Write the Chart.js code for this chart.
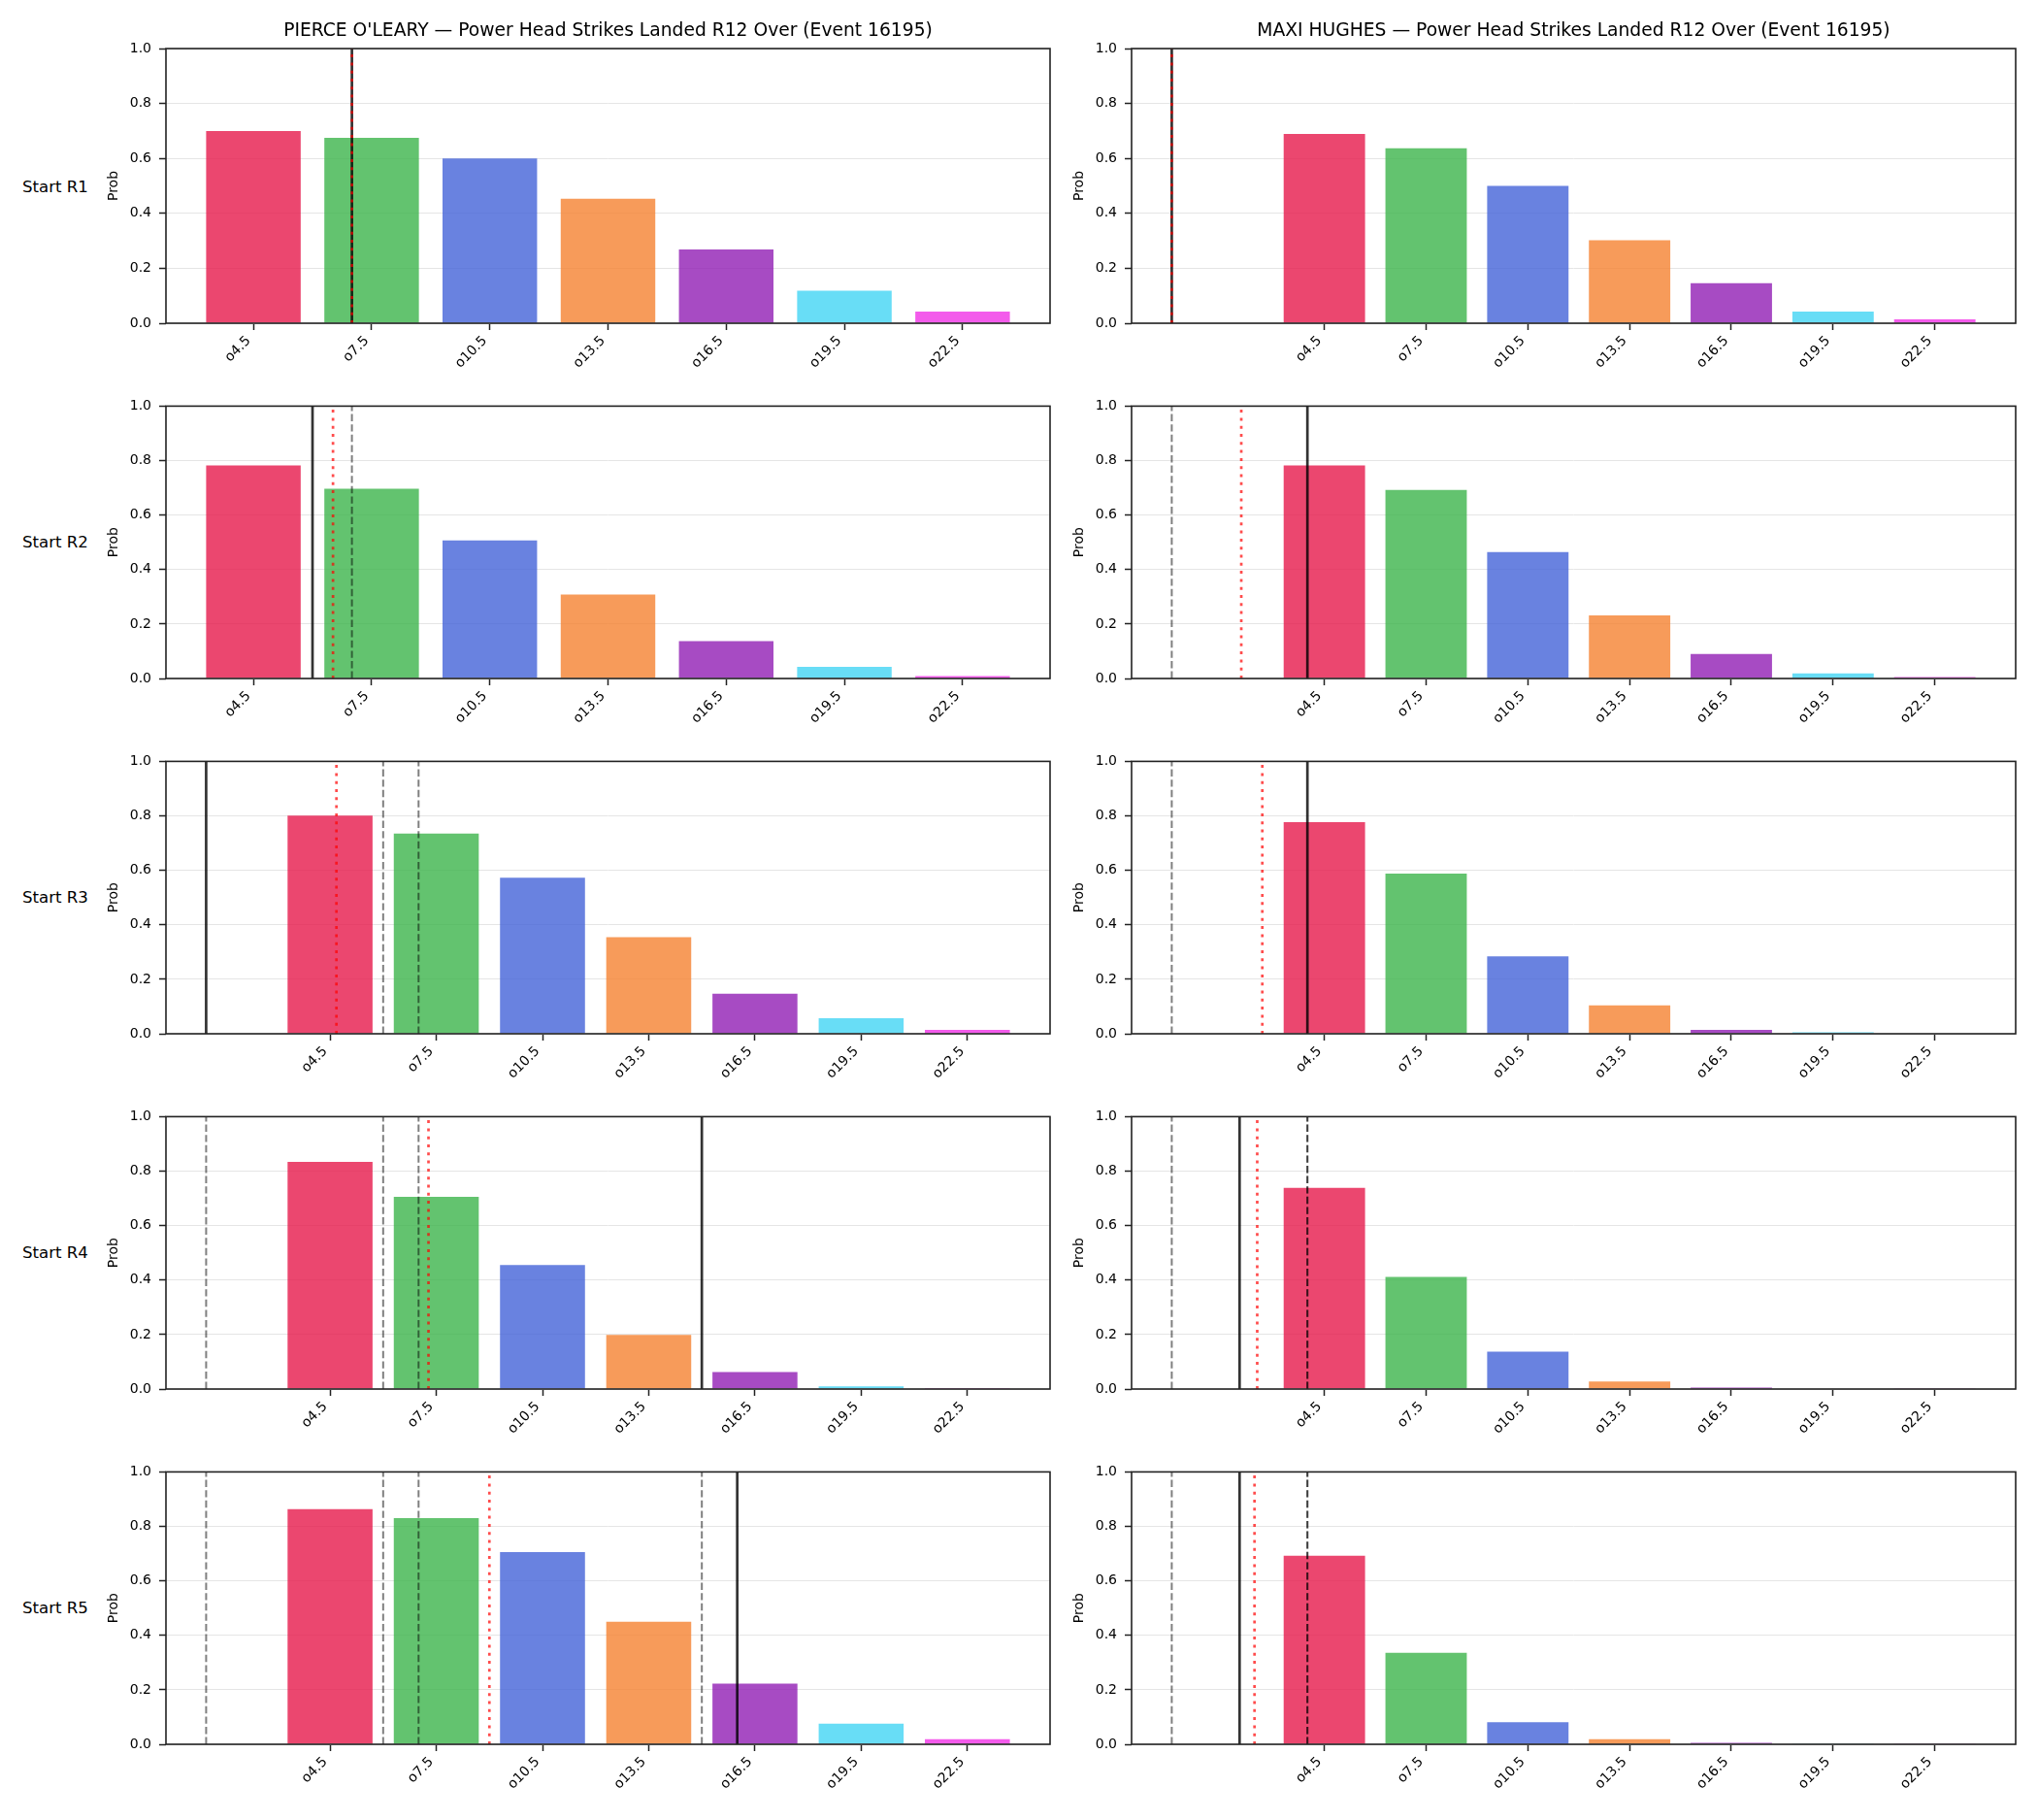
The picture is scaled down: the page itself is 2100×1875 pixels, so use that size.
<!DOCTYPE html>
<html>
<head>
<meta charset="utf-8">
<title>Power Head Strikes Landed R12 Over</title>
<script src="https://cdn.jsdelivr.net/npm/chart.js@4.4.1/dist/chart.umd.min.js"></script>
<style>
  body { margin: 0; background: #fff; }
  #wrap { position: relative; width: 2100px; height: 1875px; background: #fff; }
  #wrap canvas { position: absolute; }
  .rowlabel { position: absolute; font-family: 'DejaVu Sans'; font-size: 16.6px; color: #000; transform: translateY(-50%); white-space: nowrap; }
</style>
</head>
<body>
<div id="wrap"></div>
<script>
// data
const thresholds = [4.5, 7.5, 10.5, 13.5, 16.5, 19.5, 22.5];
const tickLabels = thresholds.map(t => 'o' + t);
const roundLabels = ['Start R1', 'Start R2', 'Start R3', 'Start R4', 'Start R5'];
const fighters = ["PIERCE O'LEARY", 'MAXI HUGHES'];
const eventId = 16195;

const pierceProbs = [
    [0.700, 0.675, 0.600, 0.453, 0.269, 0.118, 0.042],
    [0.782, 0.697, 0.507, 0.308, 0.137, 0.043, 0.009],
    [0.801, 0.735, 0.573, 0.355, 0.147, 0.057, 0.014],
    [0.834, 0.706, 0.455, 0.199, 0.062, 0.010, 0.004],
    [0.863, 0.830, 0.706, 0.450, 0.223, 0.076, 0.019]
];
const maxiProbs = [
    [0.689, 0.637, 0.500, 0.302, 0.146, 0.042, 0.014],
    [0.782, 0.692, 0.464, 0.232, 0.090, 0.019, 0.005],
    [0.777, 0.588, 0.284, 0.104, 0.014, 0.005, 0.002],
    [0.739, 0.412, 0.137, 0.028, 0.005, 0.002, 0.001],
    [0.692, 0.336, 0.081, 0.019, 0.005, 0.001, 0.001]
];

// marker lines, in strikes
const pierceSolid = [7, 6, 1, 15, 16];
const pierceDotted = [7, 6.52, 4.68, 7.28, 9.0];
const pierceDashed = [[], [7], [6, 7], [1, 6, 7], [1, 6, 7, 15]];
const maxiSolid = [0, 4, 4, 2, 2];
const maxiDotted = [0, 2.05, 2.67, 2.52, 2.44];
const maxiDashed = [[], [0], [0], [0, 4, 4], [0, 4, 4]];

const barColors = [
    'rgba(230, 25, 75, 0.8)',
    'rgba(60, 180, 75, 0.8)',
    'rgba(67, 99, 216, 0.8)',
    'rgba(245, 130, 49, 0.8)',
    'rgba(145, 30, 180, 0.8)',
    'rgba(66, 212, 244, 0.8)',
    'rgba(240, 50, 230, 0.8)'
];

// layout
const axLeft = [171, 1166];
const axWidth = 911;
const axHeight = 283;
const rowTop = [50, 416, 782, 1148, 1514];
const yAxisW = 110;
const xAxisH = 70;
const topPad = 14;
const rightPad = 12;

Chart.defaults.font.family = 'DejaVu Sans';
Chart.defaults.color = '#000';

const framePlugin = {
    id: 'frame',
    afterDraw(chart) {
        const { ctx, chartArea: a } = chart;
        ctx.save();
        ctx.strokeStyle = '#222';
        ctx.lineWidth = 1.6;
        ctx.strokeRect(a.left, a.top, a.width, a.height);
        ctx.restore();
    }
};

// strikes -> bar index position
function toIndex(v) {
    return (v - thresholds[0]) / (thresholds[1] - thresholds[0]);
}

function xRange(lines) {
    const lo = Math.min(-0.4, ...lines);
    const hi = Math.max(thresholds.length - 1 + 0.4, ...lines);
    const pad = 0.05 * (hi - lo);
    return { min: lo - pad, max: hi + pad };
}

function vline(v, kind) {
    const x = toIndex(v);
    const ds = { type: 'line', data: [{ x: x, y: 0 }, { x: x, y: 1 }], pointRadius: 0, fill: false };
    if (kind === 'solid') {
        ds.borderColor = 'rgba(0, 0, 0, 0.8)'; ds.borderWidth = 2.7; ds.order = 2;
    } else if (kind === 'dotted') {
        ds.borderColor = 'rgba(255, 0, 0, 0.7)'; ds.borderWidth = 2.7; ds.borderDash = [3, 5.3]; ds.order = 1;
    } else {
        ds.borderColor = 'rgba(0, 0, 0, 0.5)'; ds.borderWidth = 2; ds.borderDash = [7.4, 3.2]; ds.order = 3;
    }
    return ds;
}

function makePanel(col, row, probs, solid, dotted, dashed) {
    const hasTitle = row === 0;
    const canvas = document.createElement('canvas');
    const top = hasTitle ? 0 : rowTop[row] - topPad;
    const height = hasTitle ? rowTop[0] + axHeight + xAxisH : topPad + axHeight + xAxisH;
    const width = yAxisW + axWidth + rightPad;
    canvas.width = width;
    canvas.height = height;
    canvas.style.left = (axLeft[col] - yAxisW) + 'px';
    canvas.style.top = top + 'px';
    document.getElementById('wrap').appendChild(canvas);

    const lineVals = [solid, dotted].concat(dashed);
    const xr = xRange(lineVals.map(toIndex));

    const datasets = [{
        type: 'bar',
        data: probs.map((p, i) => ({ x: i, y: p })),
        backgroundColor: barColors,
        borderWidth: 0,
        barPercentage: 0.8,
        categoryPercentage: 1.0,
        order: 10
    }];
    dashed.forEach(v => datasets.push(vline(v, 'dashed')));
    datasets.push(vline(solid, 'solid'));
    datasets.push(vline(dotted, 'dotted'));

    new Chart(canvas.getContext('2d'), {
        type: 'bar',
        data: { datasets: datasets },
        options: {
            responsive: false,
            animation: false,
            layout: { padding: { top: hasTitle ? 0 : topPad, right: rightPad, left: 0, bottom: 0 } },
            plugins: {
                legend: { display: false },
                tooltip: { enabled: false },
                title: {
                    display: hasTitle,
                    fullSize: false,
                    text: fighters[col] + ' \u2014 Power Head Strikes Landed R12 Over (Event ' + eventId + ')',
                    font: { size: 18.7, weight: 'normal' },
                    color: '#000',
                    padding: { top: 20.8, bottom: 6.8 }
                }
            },
            scales: {
                x: {
                    type: 'linear',
                    offset: false,
                    min: xr.min,
                    max: xr.max,
                    afterBuildTicks: s => { s.ticks = thresholds.map((t, i) => ({ value: i })); },
                    afterFit: s => { s.height = xAxisH; },
                    grid: { offset: false, drawOnChartArea: false, drawTicks: true, tickLength: 7, tickColor: '#222', tickWidth: 1.5 },
                    border: { display: false },
                    ticks: {
                        autoSkip: false, maxRotation: 45, minRotation: 45, padding: 3, labelOffset: -5,
                        font: { size: 14 }, color: '#000',
                        callback: v => tickLabels[v]
                    }
                },
                y: {
                    min: 0,
                    max: 1,
                    afterFit: s => { s.width = yAxisW; },
                    grid: { color: '#e5e5e5', lineWidth: 1, tickLength: 7, tickColor: '#222', tickWidth: 1.5 },
                    border: { display: false },
                    ticks: { stepSize: 0.2, padding: 8, font: { size: 14 }, color: '#000', callback: v => v.toFixed(1) },
                    title: { display: true, text: 'Prob', font: { size: 14 }, color: '#000', padding: { top: 47.6, bottom: 0 } }
                }
            }
        },
        plugins: [framePlugin]
    });
}

roundLabels.forEach((label, r) => {
    const div = document.createElement('div');
    div.className = 'rowlabel';
    div.textContent = label;
    div.style.left = '23px';
    div.style.top = (rowTop[r] + axHeight / 2) + 'px';
    document.getElementById('wrap').appendChild(div);

    makePanel(0, r, pierceProbs[r], pierceSolid[r], pierceDotted[r], pierceDashed[r]);
    makePanel(1, r, maxiProbs[r], maxiSolid[r], maxiDotted[r], maxiDashed[r]);
});
</script>
</body>
</html>
